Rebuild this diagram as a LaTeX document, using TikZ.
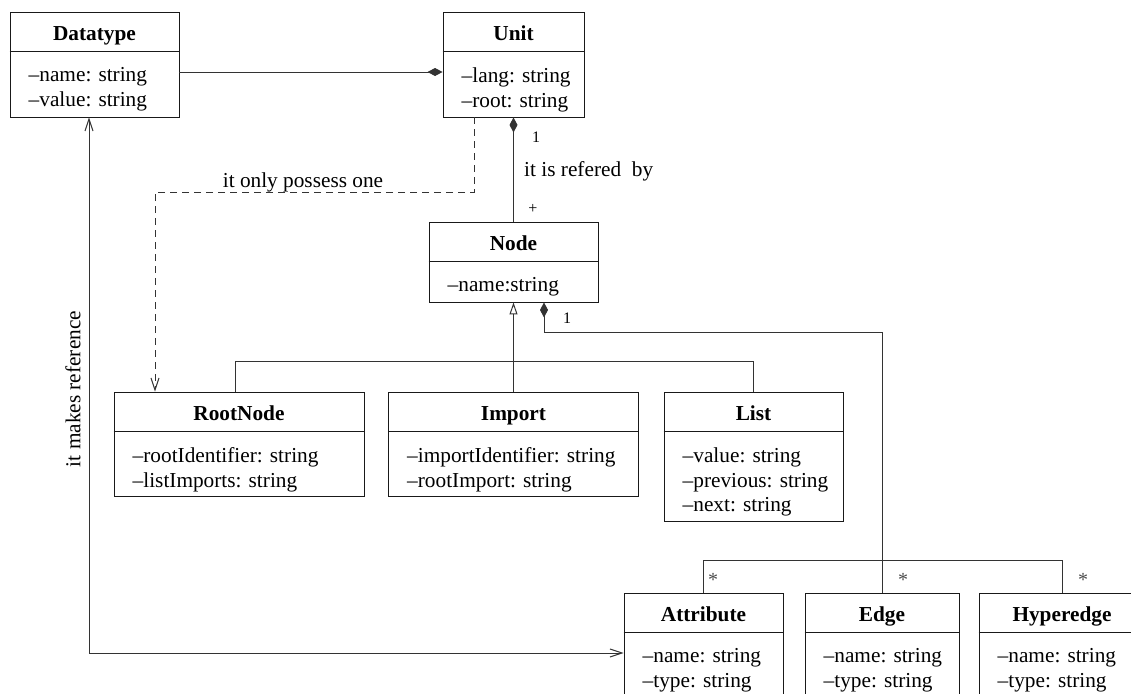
\documentclass[tikz,border=0pt]{standalone}
\usepackage{fontspec}
\setmainfont{Liberation Serif}
\usetikzlibrary{arrows.meta}

\tikzset{
  classbox/.style={draw=black!90, line width=0.95pt, inner sep=0pt},
  ctitle/.style={font=\fontsize{21.3}{24}\selectfont\bfseries, inner sep=0pt, anchor=base},
  cattrs/.style={font=\fontsize{21.3}{24.5}\selectfont, inner sep=0pt, anchor=north west, align=left},
  conn/.style={draw=black!80, line width=1pt},
  lbl/.style={font=\fontsize{21.3}{24}\selectfont, inner sep=0pt},
  mult/.style={font=\fontsize{16}{18}\selectfont, inner sep=0pt},
  star/.style={font=\fontsize{20}{22}\selectfont, text=black!70, inner sep=0pt},
  compose/.style={conn, {Diamond[length=15pt,width=8pt]}-},
  generalize/.style={conn, -{Triangle[open, length=12pt, width=8pt]}},
  assoc/.style={conn, -{Straight Barb[length=12pt, width=8pt]}},
  biassoc/.style={conn, {Straight Barb[length=12pt, width=8pt]}-{Straight Barb[length=12pt, width=8pt]}},
}

% UML class: name, centre x, centre y, width, height, title, attributes
\newcommand\umlclass[7]{%
  \node[classbox, minimum width=#4pt, minimum height=#5pt] (#1) at (#2,#3) {};
  \draw[draw=black!90, line width=0.95pt] ([yshift=-40pt]#1.north west) -- ([yshift=-40pt]#1.north east);
  \node[ctitle] (#1-title) at ([yshift=-29pt]#1.north) {#6};
  \node[cattrs] (#1-attrs) at ([xshift=19pt,yshift=-56pt]#1.north west) {#7};
}

\begin{document}
\begin{tikzpicture}[x=1pt, y=-1pt]
  \clip (0,0) rectangle (1131,693);

  % classes
  \umlclass{datatype}{94.5}{64.5}{169}{105}{Datatype}{\textendash name: string\\\textendash value: string}
  \umlclass{unit}{513.5}{64.5}{141}{105}{Unit}{\textendash lang: string\\\textendash root: string}
  \umlclass{nodecls}{513.5}{262}{169}{80}{Node}{\textendash name:string}
  \umlclass{rootnode}{239}{444}{250}{104}{RootNode}{\textendash rootIdentifier: string\\\textendash listImports: string}
  \umlclass{import}{513.5}{444}{250}{104}{Import}{\textendash importIdentifier: string\\\textendash rootImport: string}
  \umlclass{list}{753.5}{456.5}{179}{129}{List}{\textendash value: string\\\textendash previous: string\\\textendash next: string}
  \umlclass{attribute}{703.5}{658}{159}{130}{Attribute}{\textendash name: string\\\textendash type: string}
  \umlclass{edgecls}{882}{658}{154}{130}{Edge}{\textendash name: string\\\textendash type: string}
  \umlclass{hyperedge}{1062}{658}{166}{130}{Hyperedge}{\textendash name: string\\\textendash type: string}

  % Datatype is part of Unit
  \draw[compose] ([yshift=-7.5pt]unit.west) -- ([yshift=-7.5pt]datatype.east);

  % Unit is referred by nodes
  \draw[compose] (unit.south) -- (nodecls.north);
  \node[mult, anchor=base] (m-unit) at (536,142) {1};
  \node[lbl, anchor=base west] (refby) at (524,176) {it is refered\ \ by};
  \node[mult, anchor=base] (m-node) at (533,213) {+};

  % Unit owns exactly one root node
  \draw[assoc, dash pattern=on 7pt off 5pt] ([xshift=-39.5pt]unit.south) -- ++(0,75) -| ([xshift=-84pt]rootnode.north);
  \node[lbl, anchor=base] (possess) at (303,187) {it only possess one};

  % specialisations of Node
  \draw[generalize] (import.north) -- (nodecls.south);
  \draw[conn] ([xshift=-4pt]rootnode.north) -- ++(0,-30) -| (list.north);

  % Node is composed of attributes, edges and hyperedges
  \draw[compose] ([xshift=30.5pt]nodecls.south) -- ++(0,30) -| (edgecls.north);
  \draw[conn] (attribute.north) -- ++(0,-32) -| (hyperedge.north);
  \node[mult, anchor=base] (m-comp) at (567,323) {1};
  \node[star] (m-attr) at (713,580) {*};
  \node[star] (m-edge) at (903,580) {*};
  \node[star] (m-hyper) at (1083,580) {*};

  % attributes refer to datatypes
  \draw[biassoc] ([xshift=-5.5pt]datatype.south) |- ([yshift=5pt]attribute.west);
  \node[lbl, rotate=90] (makesref) at (73,389) {it makes reference};
\end{tikzpicture}
\end{document}
